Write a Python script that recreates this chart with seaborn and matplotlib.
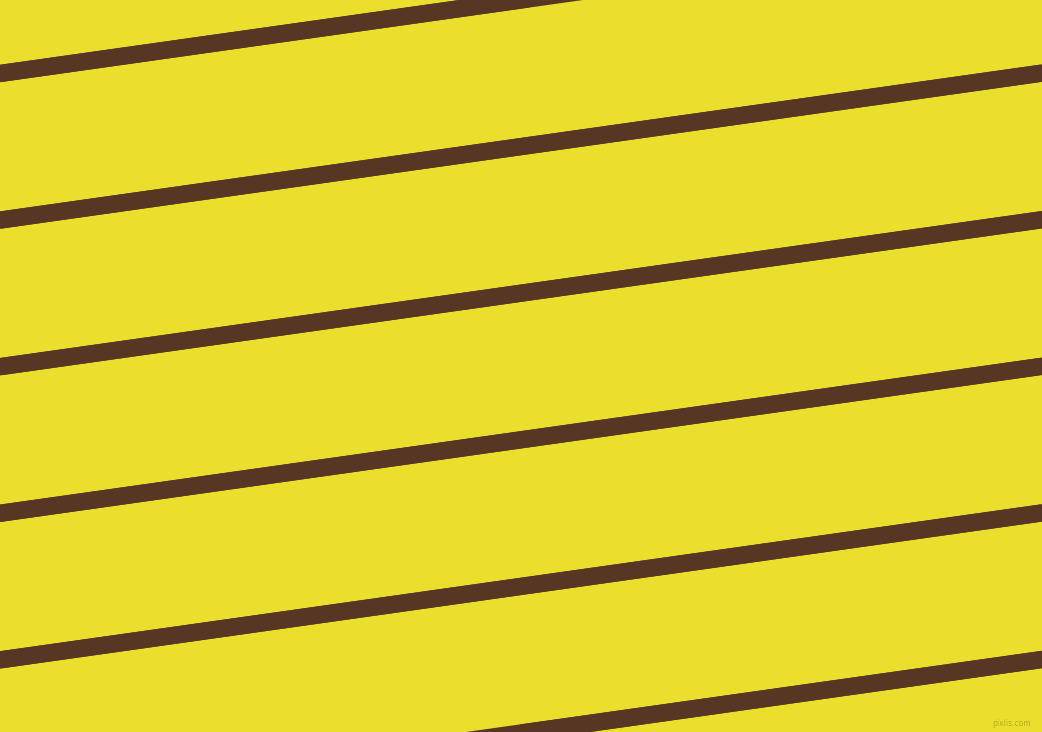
import pandas as pd
import seaborn as sns
from matplotlib import pyplot as plt

# stripe centre lines: y at the left edge (x=0) and right edge (x=1042), pixel units
left_y = [73.5, 220.1, 366.7, 513.3, 659.9, 806.5]
right_y = [-73.5, 73.1, 219.7, 366.3, 512.9, 659.5]
x_ends = [0, 1042]
half_width = 8.75  # vertical half thickness of a stripe

rows = []
for i, (a, b) in enumerate(zip(left_y, right_y)):
    rows.append({'stripe': i, 'x': x_ends[0], 'y': a})
    rows.append({'stripe': i, 'x': x_ends[1], 'y': b})
df = pd.DataFrame(rows)

sns.set_style('white')
fig = plt.figure(figsize=(10.42, 7.32), dpi=100)
ax = fig.add_axes([0, 0, 1, 1])
bg = '#ebdf2e'
brown = '#573624'
ax.set_facecolor(bg)
fig.patch.set_facecolor(bg)

# filled bands so the stripe ends are not cut where the centre line leaves the canvas
for i, g in df.groupby('stripe'):
    ax.fill_between(g['x'], g['y'] - half_width, g['y'] + half_width,
                    color=brown, linewidth=0)

sns.lineplot(data=df, x='x', y='y', units='stripe', estimator=None,
             color=brown, linewidth=half_width * 2 * 0.72 * 0.98, ax=ax,
             legend=False, solid_capstyle='butt')

ax.set_xlim(0, 1042)
ax.set_ylim(732, 0)
ax.axis('off')

ax.text(1031, 728, 'pixlis.com', fontsize=5.5, color='#b8ab22', ha='right', va='bottom')

fig.savefig('out.png', dpi=100, facecolor=fig.get_facecolor())
